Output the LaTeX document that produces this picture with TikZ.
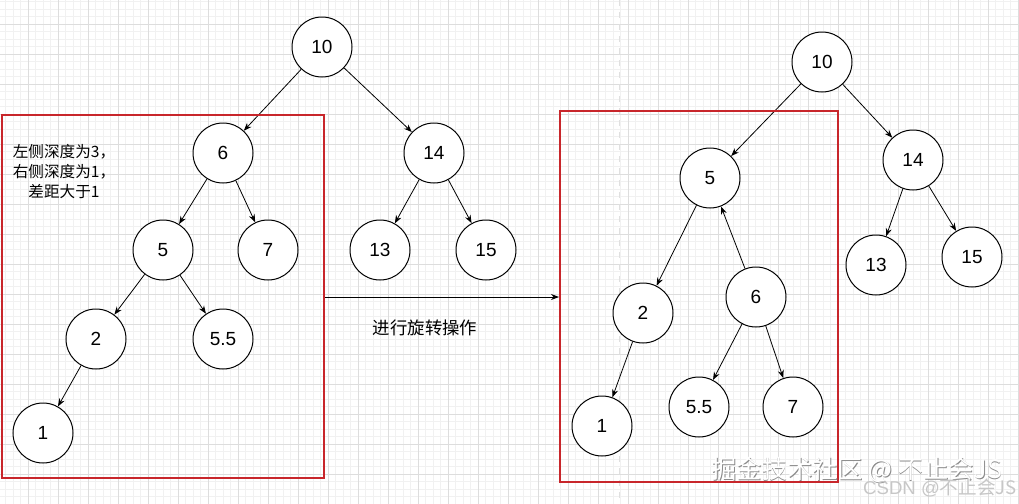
\documentclass[tikz,border=0pt]{standalone}
\usepackage{fontspec}
\setmainfont{Liberation Sans}
\newfontfamily\cjk{Noto Sans CJK SC}
\usetikzlibrary{arrows.meta,positioning}
\definecolor{boxred}{HTML}{C8262B}
\definecolor{gridminor}{HTML}{F1F1F1}
\definecolor{gridmajor}{HTML}{DDDDDD}

\begin{document}
\begin{tikzpicture}[x=0.5pt,y=-0.5pt,>={Stealth[length=4pt,width=3pt]},
  num/.style={circle,draw,line width=0.5pt,fill=white,minimum size=30pt,inner sep=0pt,font=\fontsize{9.5}{11}\selectfont},
  edge/.style={->,line width=0.4pt},
  frame/.style={draw=boxred,line width=1pt},
  note/.style={font=\cjk\fontsize{7.8}{10}\selectfont,align=center}]
\useasboundingbox (0,0) rectangle (1019,504);
\fill[white] (0,0) rectangle (1019,504);
% background grid
\foreach \gx in {5.5,13,...,1019} \draw[gridminor,line width=0.3pt] (\gx,0) -- (\gx,504);
\foreach \gy in {1.5,9,...,504} \draw[gridminor,line width=0.3pt] (0,\gy) -- (1019,\gy);
\foreach \gx in {28,58,...,1019} \draw[gridmajor,line width=0.35pt] (\gx,0) -- (\gx,504);
\foreach \gy in {24,54,...,504} \draw[gridmajor,line width=0.35pt] (0,\gy) -- (1019,\gy);
\draw[gridmajor!80!black!40,dashed,line width=0.4pt] (619,0) -- (619,504);

% before rotation
\node[num] (a10) at (322,47) {10};
\node[num] (a6) at (223,153) {6};
\node[num] (a14) at (434,153) {14};
\node[num] (a5) at (163,250) {5};
\node[num] (a7) at (268,250) {7};
\node[num] (a13) at (380,250) {13};
\node[num] (a15) at (486,250) {15};
\node[num] (a2) at (96,339) {2};
\node[num] (a55) at (223,339) {5.5};
\node[num] (a1) at (43,433) {1};
\foreach \p/\c in {a10/a6,a10/a14,a6/a5,a6/a7,a5/a2,a5/a55,a2/a1,a14/a13,a14/a15}
  \draw[edge] (\p) -- (\c);
\node[frame,minimum width=161pt,minimum height=181.5pt,inner sep=0pt] (left) at (163,296.5) {};
\node[note] (depth) at (64,172) {左侧深度为3，\\右侧深度为1，\\差距大于1};

% after rotation
\node[num] (b10) at (822,62) {10};
\node[num] (b14) at (913,160) {14};
\node[num] (b13) at (876,265) {13};
\node[num] (b15) at (972,257) {15};
\node[num] (b5) at (710,178) {5};
\node[num] (b2) at (643,313) {2};
\node[num] (b6) at (756,297) {6};
\node[num] (b1) at (602,426) {1};
\node[num] (b55) at (699,407) {5.5};
\node[num] (b7) at (793,407) {7};
\foreach \p/\c in {b10/b5,b10/b14,b5/b2,b2/b1,b6/b5,b6/b55,b6/b7,b14/b13,b14/b15}
  \draw[edge] (\p) -- (\c);
\node[frame,minimum width=139pt,minimum height=185.5pt,inner sep=0pt] (right) at (699,296.5) {};

\draw[edge] (left.east |- 0,297) coordinate (from) -- (from -| right.west)
  node[midway,below=8pt,xshift=-8.5pt,font=\cjk\fontsize{8.7}{10}\selectfont]{进行旋转操作};

% watermark
\node[font=\cjk\fontsize{12.6}{14}\selectfont,text=black!45] (wmshade) at (857.8,470.8) {掘金技术社区 @ 不止会JS};
\node[font=\cjk\fontsize{12.6}{14}\selectfont,text=white] (wm) at (857,470) {掘金技术社区 @ 不止会JS};
\node[font=\fontsize{9.3}{11}\selectfont,text=black!22] (csdn) at (940,488) {CSDN @\cjk 不止会JS};
\end{tikzpicture}
\end{document}
